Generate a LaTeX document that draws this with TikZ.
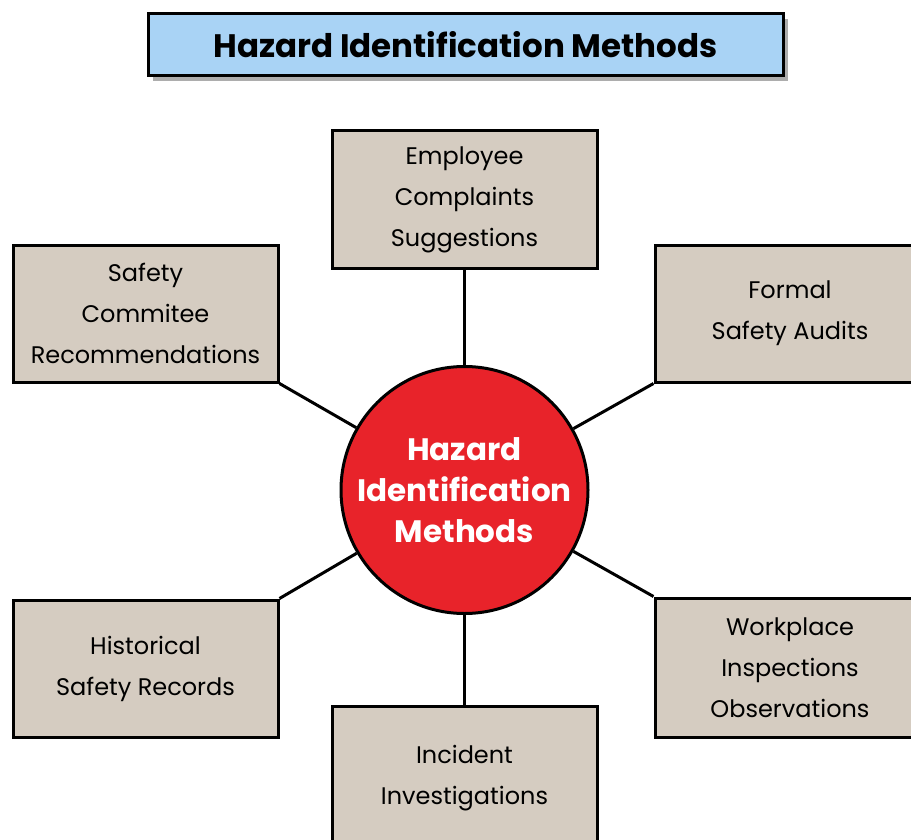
\documentclass[tikz,border=0pt]{standalone}
\usepackage{fontspec}
\setmainfont{Poppins}
\usetikzlibrary{shadows}
\definecolor{boxfill}{HTML}{D5CCC1}
\definecolor{titlefill}{HTML}{A9D3F5}
\definecolor{hubred}{HTML}{E8232A}
\tikzset{
  method/.style={draw=black, line width=3pt, fill=boxfill, rectangle, align=center,
    inner sep=0pt, font=\fontsize{24}{41}\selectfont},
  link/.style={line width=3pt, draw=black},
}
\begin{document}
\begin{tikzpicture}[x=1pt,y=-1pt]
\useasboundingbox (0,0) rectangle (911,840);
\clip (0,0) rectangle (911,840);
\fill[white] (0,0) rectangle (911,840);
% title
\node[draw=black, line width=3pt, fill=titlefill, minimum width=635pt, minimum height=62pt,
  inner sep=0pt, font=\fontsize{32.5}{35}\selectfont\bfseries,
  drop shadow={shadow xshift=5pt, shadow yshift=-5pt, fill=black!40, opacity=0.8}]
  (title) at (465.5,45) {Hazard Identification Methods};
% hub
\node[circle, draw=black, line width=3pt, fill=hubred, minimum size=247pt, inner sep=0pt,
  text=white, align=center, font=\fontsize{31}{41}\selectfont\bfseries]
  (hub) at (464.5,490) {Hazard\\Identification\\Methods};
% boxes
\node[method, minimum width=265pt, minimum height=137pt] (emp) at (464.5,199.5) {Employee\\Complaints\\Suggestions};
\node[method, minimum width=265pt, minimum height=137pt] (saf) at (145.5,313.5) {Safety\\Commitee\\Recommendations};
\node[method, minimum width=270pt, minimum height=137pt] (aud) at (790,313.5) {Formal\\Safety Audits};
\node[method, minimum width=265pt, minimum height=137pt] (his) at (145.5,668.5) {Historical\\Safety Records};
\node[method, minimum width=270pt, minimum height=139pt] (wor) at (790,667.5) {Workplace\\Inspections\\Observations};
\node[method, minimum width=265pt, minimum height=144pt] (inc) at (464.5,778) {Incident\\Investigations};
% connectors
\draw[link] (hub) -- (emp);
\draw[link] (hub) -- (inc);
\draw[link] (saf.south east) -- (hub);
\draw[link] (aud.south west) -- (hub);
\draw[link] (his.north east) -- (hub);
\draw[link] (wor.north west) -- (hub);
\end{tikzpicture}
\end{document}
